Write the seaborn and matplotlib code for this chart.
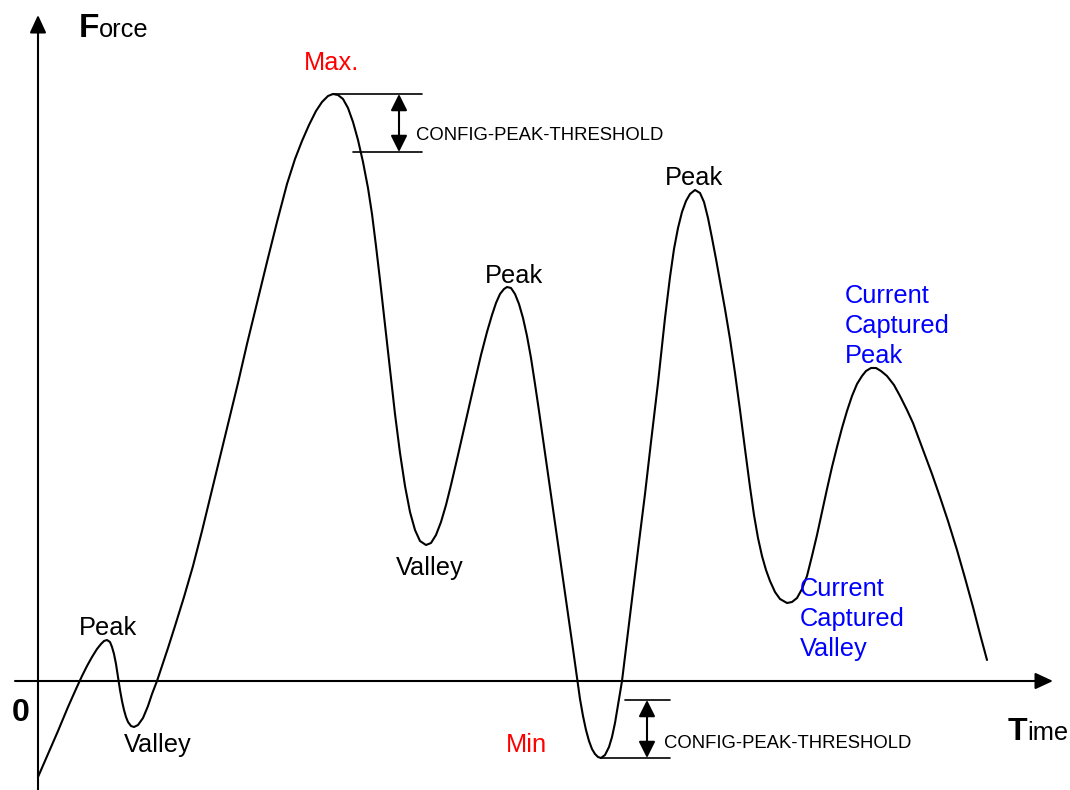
import matplotlib
matplotlib.use("Agg")
import matplotlib.pyplot as plt
import seaborn as sns
import numpy as np

# ---------------- data (time, force) ----------------
time = [0, 10, 20, 30, 38, 44, 49, 54, 59, 63, 66, 69, 72, 74, 76, 78, 80, 82, 84, 86,
        88, 90, 93, 96, 100, 105, 110, 114, 119, 124, 130, 137, 146, 155, 164, 173, 182,
        191, 200, 209, 219, 229, 239, 249, 257, 264, 271, 278, 284, 290, 295, 300, 305,
        310, 315, 320, 325, 330, 334, 338, 342, 347, 352, 357, 362, 367, 372, 377, 382,
        388, 393, 398, 403, 408, 413, 420, 428, 436, 443, 449, 454, 458, 462, 466, 469,
        473, 477, 481, 485, 489, 493, 497, 501, 505, 510, 515, 520, 525, 530, 535, 539,
        542, 545, 548, 551, 554, 557, 560, 563, 567, 571, 574, 577, 580, 584, 589, 595,
        601, 607, 613, 620, 627, 632, 636, 640, 644, 648, 652, 657, 662, 666, 670, 674,
        678, 682, 687, 692, 697, 702, 707, 712, 716, 720, 724, 728, 732, 737, 742, 749,
        754, 759, 764, 769, 774, 779, 784, 789, 794, 799, 804, 809, 814, 819, 824, 828,
        833, 838, 843, 849, 856, 862, 869, 875, 885, 894, 902, 910, 919, 927, 935, 942,
        949]
force = [-96, -73, -50, -26, -8, 5, 15, 24, 32, 37, 40, 41, 39, 34, 27, 17, 4, -9, -20, -29,
         -36, -41, -45, -46, -44, -37, -25, -13, 0, 15, 33, 55, 84, 115, 150, 187, 224,
         261, 298, 337, 378, 419, 459, 497, 522, 540, 556, 570, 579, 585, 587, 586, 582,
         573, 559, 541, 519, 493, 467, 435, 401, 356, 311, 267, 228, 195, 169, 151, 140,
         136, 138, 146, 159, 176, 196, 226, 261, 296, 326, 349, 366, 378, 387, 392, 394,
         393, 387, 377, 363, 345, 323, 297, 270, 242, 207, 172, 137, 102, 67, 32, 3,
         -18, -35, -49, -60, -68, -73, -76, -77, -74, -66, -56, -42, -24, 0, 41, 91,
         139, 187, 239, 298, 363, 404, 432, 453, 469, 480, 487, 491, 488, 479, 463, 443,
         422, 400, 372, 342, 308, 271, 232, 194, 166, 143, 125, 111, 100, 89, 82, 78,
         79, 83, 92, 105, 125, 146, 169, 192, 214, 234, 253, 270, 285, 297, 305, 310,
         313, 313, 310, 305, 296, 285, 271, 258, 231, 207, 184, 160, 131, 103, 74, 47,
         21]
peak_threshold = 58

point_labels = ["Peak", "Valley", "Valley", "Peak", "Peak"]
special_labels = ["Max.", "Min"]
current_peak_label = ["Current", "Captured", "Peak"]
current_valley_label = ["Current", "Captured", "Valley"]
threshold_label = "CONFIG-PEAK-THRESHOLD"

# ---------------- figure ----------------
sns.set_theme(style="white")
plt.rcParams["font.family"] = ["Liberation Sans", "DejaVu Sans"]
plt.rcParams["text.color"] = "black"

fig = plt.figure(figsize=(10.7, 7.9), dpi=100)
ax = fig.add_axes([0, 0, 1, 1])
ax.set_xlim(-38, 1032)
ax.set_ylim(-109, 681)
ax.set_axis_off()

sns.lineplot(x=time, y=force, sort=False, estimator=None, color="black",
             linewidth=1.5, ax=ax)
for ln in ax.lines:
    ln.set_solid_joinstyle("round")
    ln.set_solid_capstyle("round")

# axes with arrow heads
ax_arrow = dict(arrowstyle="-|>,head_length=0.54,head_width=0.25", mutation_scale=20,
                color="black", lw=1.5, shrinkA=0, shrinkB=0)
ax.annotate("", xy=(0, 666), xytext=(0, -109), arrowprops=ax_arrow)
ax.annotate("", xy=(1015, 0), xytext=(-23, 0), arrowprops=ax_arrow)

# thresholds at the global maximum and at the lowest valley
t_arr = np.array(time)
f_arr = np.array(force)
imax = int(np.argmax(f_arr))
late = np.where(t_arr > 400)[0]
imin = int(late[np.argmin(f_arr[late])])
tmax, fmax = time[imax], force[imax]
tmin, fmin = time[imin], force[imin]
dbl = dict(arrowstyle="<|-|>,head_length=0.5,head_width=0.25", mutation_scale=20,
           color="black", lw=1.5, shrinkA=0, shrinkB=0)

ax.plot([tmax, tmax + 89], [fmax, fmax], color="black", lw=1.2)
ax.plot([tmax + 20, tmax + 89], [fmax - peak_threshold] * 2, color="black", lw=1.2)
ax.annotate("", xy=(tmax + 66, fmax), xytext=(tmax + 66, fmax - peak_threshold), arrowprops=dbl)
ax.text(378, 541, threshold_label, fontsize=13.3, ha="left", va="baseline", color="black")

ax.plot([tmin, tmin + 69], [fmin, fmin], color="black", lw=1.2)
ax.plot([tmin + 24, tmin + 69], [fmin + peak_threshold] * 2, color="black", lw=1.2)
ax.annotate("", xy=(tmin + 46, fmin), xytext=(tmin + 46, fmin + peak_threshold), arrowprops=dbl)
ax.text(626, -67, threshold_label, fontsize=13.3, ha="left", va="baseline", color="black")

# point labels
lab_pos = [(41, 46), (86, -71), (358, 106), (447, 398), (627, 496)]
for lab, (tx, fy) in zip(point_labels, lab_pos):
    ax.text(tx, fy, lab, fontsize=18.3, ha="left", va="baseline", color="black")
ax.text(266, 611, special_labels[0], fontsize=18.3, ha="left", va="baseline", color="#ff0000")
ax.text(468, -71, special_labels[1], fontsize=18.3, ha="left", va="baseline", color="#ff0000")

for i, line in enumerate(current_peak_label):
    ax.text(807, 378 - 30 * i, line, fontsize=18.3, ha="left", va="baseline", color="#0000ff")
for i, line in enumerate(current_valley_label):
    ax.text(762, 85 - 30 * i, line, fontsize=18.3, ha="left", va="baseline", color="#0000ff")

# zero label
ax.text(-17, -40, "0", fontsize=23, fontweight="bold", ha="center", va="baseline", color="black")

# axis titles: big bold initial + regular rest
fig.canvas.draw()
r = fig.canvas.get_renderer()
inv = ax.transData.inverted()

tF = ax.text(41, 644, "F", fontsize=24, fontweight="bold", ha="left", va="baseline", color="black")
bb = tF.get_window_extent(renderer=r)
ax.text(inv.transform((bb.x1, 0))[0], 644, "orce", fontsize=18.3, ha="left", va="baseline",
        color="black")

tIme = ax.text(1030, -59, "ime", fontsize=18.3, ha="right", va="baseline", color="black")
bb = tIme.get_window_extent(renderer=r)
ax.text(inv.transform((bb.x0, 0))[0], -59, "T", fontsize=23, fontweight="bold",
        ha="right", va="baseline", color="black")

fig.savefig("out.png", dpi=100, facecolor="white")
